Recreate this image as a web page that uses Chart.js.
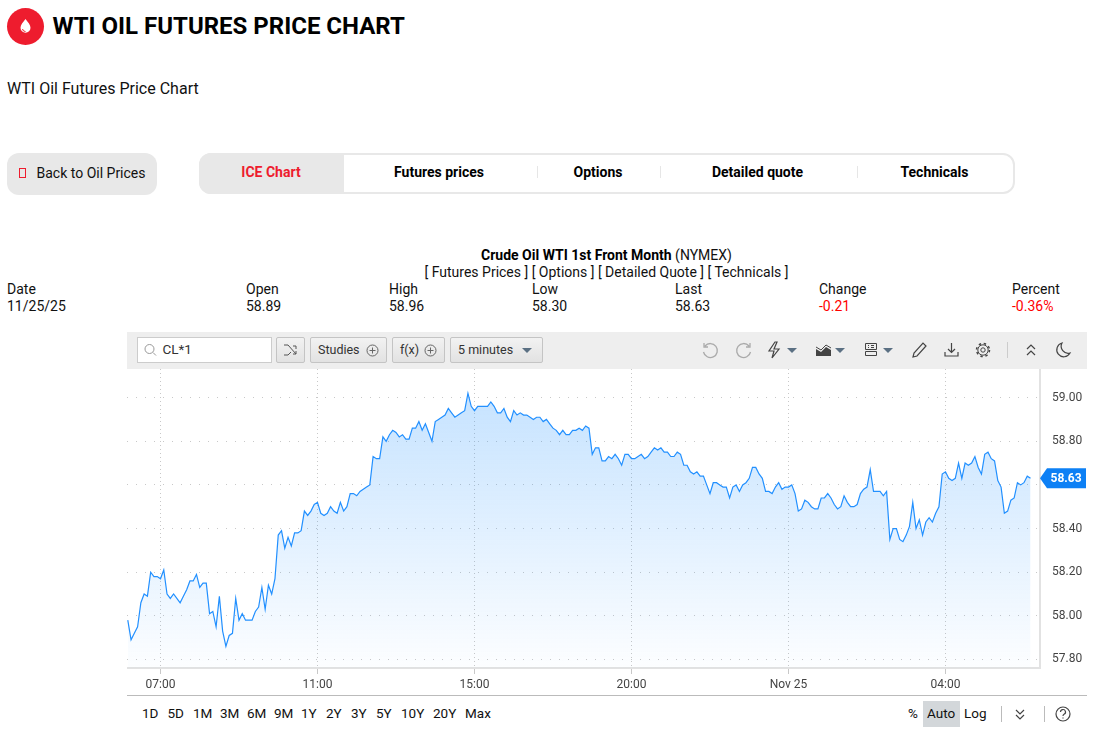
<!DOCTYPE html>
<html>
<head>
<meta charset="utf-8">
<title>WTI Oil Futures Price Chart</title>
<script src="https://cdn.jsdelivr.net/npm/chart.js@4"></script>
<style>
  html, body { margin: 0; padding: 0; background: #fff; overflow: hidden; }
  body { width: 1096px; height: 735px; position: relative; font-family: Roboto, sans-serif; font-size: 14px; color: #111; }
  .t { position: absolute; white-space: nowrap; line-height: 17px; }
  .r { font-size: 13.5px; }
  .c { transform: translateX(-50%); }
  .b { font-weight: 700; }
  .box { position: absolute; box-sizing: border-box; }
  .red { color: #f00; }
  .btn { position: absolute; box-sizing: border-box; top: 337px; height: 26px; border: 1px solid #c4c4c4; border-radius: 2px;
         background: linear-gradient(#f2f2f2, #e2e2e2); color: #333; font-size: 12.5px; line-height: 23px; padding-left: 7px; white-space: nowrap; }
  svg { position: absolute; overflow: visible; fill: none; }
  #chartBox { position: absolute; left: 127px; top: 369px; }
</style>
</head>
<body>

<!-- page header -->
<div class="box" style="left:7px;top:8px;width:37px;height:37px;border-radius:50%;background:#ee1c2e"></div>
<svg style="left:0;top:0" width="50" height="50"><path d="M25.500 19c2.600 3.500 5 5.800 5 8.800a5 5 0 0 1-10 0c0-3 2.400-5.300 5-8.800z" fill="#fff"/><path d="M22.500 29a3 3 0 0 0 3 2.500" stroke="#ee1c2e"/></svg>
<div class="t b" style="left:52.500px;top:11px;font-size:24px;line-height:30px;color:#000">WTI OIL FUTURES PRICE CHART</div>
<div class="t" style="left:7px;top:79px;font-size:16px;line-height:19px">WTI Oil Futures Price Chart</div>

<!-- nav -->
<div class="box" style="left:7px;top:153px;width:150px;height:42px;border-radius:12px;background:#e8e8e8"></div>
<div class="box" style="left:19px;top:168px;width:7px;height:10px;border:1px solid #ee1c2e"></div>
<div class="t" style="left:36.500px;top:165px">Back to Oil Prices</div>

<div class="box" style="left:199px;top:153px;width:816px;height:41px;border:2px solid #e8e8e8;border-radius:12px"></div>
<div class="box" style="left:199px;top:153px;width:145px;height:41px;background:#e8e8e8;border-radius:12px 0 0 12px"></div>
<div class="t b c" style="left:271px;top:164px;color:#ee1c2e">ICE Chart</div>
<div class="t b c" style="left:439px;top:164px;color:#000">Futures prices</div>
<div class="t b c" style="left:598px;top:164px;color:#000">Options</div>
<div class="t b c" style="left:757.500px;top:164px;color:#000">Detailed quote</div>
<div class="t b c" style="left:934.500px;top:164px;color:#000">Technicals</div>
<div class="box" style="left:537px;top:166px;width:1px;height:12px;background:#e6e6e6"></div>
<div class="box" style="left:660px;top:166px;width:1px;height:12px;background:#e6e6e6"></div>
<div class="box" style="left:857px;top:166px;width:1px;height:12px;background:#e6e6e6"></div>

<!-- quote table -->
<div class="t c" style="left:606.500px;top:247px"><span class="b" style="color:#000">Crude Oil WTI 1st Front Month</span> (NYMEX)</div>
<div class="t c" style="left:606.500px;top:264px">[ Futures Prices ] [ Options ] [ Detailed Quote ] [ Technicals ]</div>
<div class="t" style="left:7px;top:281px">Date</div><div class="t" style="left:7px;top:298px">11/25/25</div>
<div class="t" style="left:246px;top:281px">Open</div><div class="t" style="left:246px;top:298px">58.89</div>
<div class="t" style="left:389px;top:281px">High</div><div class="t" style="left:389px;top:298px">58.96</div>
<div class="t" style="left:532px;top:281px">Low</div><div class="t" style="left:532px;top:298px">58.30</div>
<div class="t" style="left:675px;top:281px">Last</div><div class="t" style="left:675px;top:298px">58.63</div>
<div class="t" style="left:819px;top:281px">Change</div><div class="t red" style="left:819px;top:298px">-0.21</div>
<div class="t" style="left:1012px;top:281px">Percent</div><div class="t red" style="left:1012px;top:298px">-0.36%</div>

<!-- toolbar -->
<div class="box" style="left:127px;top:332px;width:960px;height:37px;background:#eee"></div>
<div class="box" style="left:137px;top:337px;width:135px;height:26px;background:#fff;border:1px solid #ccc"></div>
<svg style="left:0;top:0" width="10" height="10"><circle cx="149.500" cy="349" r="4.500" stroke="#999"/><path d="M153 352.500l3 3" stroke="#999"/></svg>
<div class="t r" style="left:162.500px;top:341px;color:#333">CL*1</div>
<div class="btn" style="left:276px;width:29px"></div>
<svg style="left:0;top:0" width="10" height="10" stroke="#555"><path d="M284 345l4 0 8 9h-3M284 355l4 0 3-3M293 346h3v3M296 351v3"/></svg>
<div class="btn" style="left:310px;width:77px">Studies</div>
<svg style="left:0;top:0" width="10" height="10" stroke="#666"><circle cx="372.500" cy="350.500" r="5.500"/><path d="M369.500 350.500h6M372.500 347.500v6"/></svg>
<div class="btn" style="left:392px;width:53px">f(x)</div>
<svg style="left:0;top:0" width="10" height="10" stroke="#666"><circle cx="430.500" cy="350.500" r="5.500"/><path d="M427.500 350.500h6M430.500 347.500v6"/></svg>
<div class="btn" style="left:450px;width:93px">5 minutes</div>
<svg style="left:0;top:0" width="10" height="10"><path d="M522 348h10l-5 5z" fill="#5b7083"/>
  <path d="M705 346a7 7 0 1 1-1.500 6M704 343v4h4" stroke="#aaa" stroke-width="1.300"/>
  <path d="M749 346a7 7 0 1 0 1.500 6M750 343v4h-4" stroke="#aaa" stroke-width="1.300"/>
  <path d="M775 342l-6 9h5l-2 7 7-9h-5l3-7z" stroke="#444" stroke-width="1.200"/>
  <path d="M787 348h10l-5 5z" fill="#5b7083"/>
  <path d="M816 356v-7l5 3 5-5 5 3v6z" fill="#444"/><path d="M816 347l5 3 5-5 5 3" stroke="#444"/>
  <path d="M835 348h10l-5 5z" fill="#5b7083"/>
  <path d="M865.500 343.500h11v6h-11zM865.500 351.500h11v4h-11zM868 345.500h1M871 345.500h3M868 347.500h1M871 347.500h3" stroke="#444"/>
  <path d="M883 348h10l-5 5z" fill="#5b7083"/>
  <path d="M913 357l1-4 9-10 3 3-9 10z" stroke="#444" stroke-width="1.200"/>
  <path d="M945 352v4h13v-4M951.500 343v9M948 349l3.500 3.500 3.500-3.500" stroke="#444" stroke-width="1.200"/>
  <circle cx="983" cy="350" r="2.200" stroke="#444"/><circle cx="983" cy="350" r="6.500" stroke="#444" stroke-width="1.500" stroke-dasharray="2.400 2.700"/>
  <circle cx="983" cy="350" r="5.200" stroke="#444"/>
  <path d="M1007.500 342v16" stroke="#ccc"/>
  <path d="M1027 349l4-4 4 4M1027 355l4-4 4 4" stroke="#444" stroke-width="1.200"/>
  <path d="M1062 343a7 7 0 1 0 8 10 7 7 0 0 1-8-10z" stroke="#444" stroke-width="1.200"/>
</svg>

<div id="chartBox"><canvas id="priceChart" width="960" height="326"></canvas></div>

<!-- range bar -->
<div class="box" style="left:127px;top:695px;width:960px;height:1px;background:#bbb"></div>
<div class="t r" style="left:142px;top:705px">1D</div>
<div class="t r" style="left:167.500px;top:705px">5D</div>
<div class="t r" style="left:193px;top:705px">1M</div>
<div class="t r" style="left:220px;top:705px">3M</div>
<div class="t r" style="left:247px;top:705px">6M</div>
<div class="t r" style="left:274px;top:705px">9M</div>
<div class="t r" style="left:301px;top:705px">1Y</div>
<div class="t r" style="left:326px;top:705px">2Y</div>
<div class="t r" style="left:351px;top:705px">3Y</div>
<div class="t r" style="left:376px;top:705px">5Y</div>
<div class="t r" style="left:401px;top:705px">10Y</div>
<div class="t r" style="left:433px;top:705px">20Y</div>
<div class="t r" style="left:465px;top:705px">Max</div>
<div class="t r" style="left:908px;top:705px">%</div>
<div class="box" style="left:923px;top:701px;width:37px;height:26px;background:#d3d7da"></div>
<div class="t r" style="left:927px;top:705px">Auto</div>
<div class="t r" style="left:964px;top:705px">Log</div>
<svg style="left:0;top:0" width="10" height="10">
  <path d="M1001.500 706v16M1044.500 706v16" stroke="#bbb"/>
  <path d="M1016 710l4 4 4-4M1016 715l4 4 4-4" stroke="#444" stroke-width="1.200"/>
  <circle cx="1063" cy="714" r="7" stroke="#444" stroke-width="1.200"/>
  <path d="M1060.500 712a2.500 2.500 0 1 1 3.500 2.300c-.8.400-1 .8-1 1.700M1063 717.500v1" stroke="#444" stroke-width="1.200"/>
</svg>

<script>
// 5 minute closes
const priceValues = [
  57.98, 57.89, 57.92, 57.95, 58.06, 58.10, 58.09, 58.20, 58.18, 58.18,
  58.17, 58.21, 58.10, 58.08, 58.10, 58.08, 58.06, 58.09, 58.12, 58.16,
  58.16, 58.19, 58.13, 58.15, 58.15, 58.01, 58.02, 57.95, 58.09, 57.93,
  57.86, 57.91, 57.92, 58.08, 57.98, 58.01, 57.98, 57.98, 57.98, 58.02,
  58.04, 58.13, 58.03, 58.14, 58.10, 58.17, 58.37, 58.39, 58.31, 58.36,
  58.32, 58.38, 58.38, 58.39, 58.48, 58.46, 58.48, 58.51, 58.52, 58.47,
  58.46, 58.47, 58.50, 58.48, 58.47, 58.52, 58.48, 58.50, 58.56, 58.56,
  58.55, 58.57, 58.58, 58.59, 58.60, 58.73, 58.72, 58.72, 58.82, 58.80,
  58.83, 58.85, 58.84, 58.82, 58.83, 58.81, 58.81, 58.86, 58.86, 58.89,
  58.85, 58.88, 58.84, 58.80, 58.89, 58.90, 58.91, 58.92, 58.95, 58.93,
  58.91, 58.92, 58.93, 58.94, 59.02, 58.96, 58.94, 58.96, 58.96, 58.96,
  58.96, 58.98, 58.96, 58.93, 58.93, 58.95, 58.91, 58.89, 58.94, 58.92,
  58.93, 58.92, 58.92, 58.91, 58.90, 58.91, 58.91, 58.89, 58.90, 58.88,
  58.86, 58.85, 58.83, 58.85, 58.83, 58.83, 58.85, 58.85, 58.86, 58.85,
  58.87, 58.86, 58.74, 58.77, 58.77, 58.71, 58.71, 58.73, 58.72, 58.74,
  58.72, 58.69, 58.74, 58.74, 58.72, 58.72, 58.73, 58.74, 58.72, 58.73,
  58.75, 58.77, 58.76, 58.77, 58.75, 58.75, 58.73, 58.73, 58.75, 58.74,
  58.69, 58.69, 58.66, 58.65, 58.66, 58.64, 58.64, 58.60, 58.56, 58.61,
  58.61, 58.60, 58.59, 58.59, 58.54, 58.59, 58.60, 58.57, 58.60, 58.61,
  58.63, 58.68, 58.68, 58.65, 58.63, 58.57, 58.57, 58.56, 58.59, 58.61,
  58.58, 58.59, 58.59, 58.60, 58.56, 58.48, 58.49, 58.53, 58.52, 58.50,
  58.49, 58.49, 58.54, 58.54, 58.56, 58.54, 58.51, 58.49, 58.50, 58.55,
  58.52, 58.50, 58.50, 58.51, 58.56, 58.58, 58.59, 58.67, 58.57, 58.57,
  58.57, 58.55, 58.57, 58.35, 58.40, 58.40, 58.35, 58.34, 58.37, 58.41,
  58.52, 58.40, 58.44, 58.37, 58.43, 58.45, 58.43, 58.47, 58.50, 58.65,
  58.66, 58.63, 58.62, 58.63, 58.70, 58.63, 58.70, 58.69, 58.70, 58.73,
  58.68, 58.65, 58.74, 58.75, 58.72, 58.71, 58.62, 58.59, 58.47, 58.48,
  58.53, 58.54, 58.61, 58.60, 58.61, 58.64, 58.63
];
const timeTickBars = [10, 58, 106, 154, 202, 250];
const timeTickLabels = ["07:00", "11:00", "15:00", "20:00", "Nov 25", "04:00"];
const priceTicks = [57.8, 58.0, 58.2, 58.4, 58.6, 58.8, 59.0];
const lastPrice = 58.63;

// blue price tag on the right axis
const lastPriceTag = {
  id: "lastPriceTag",
  afterDraw(chart) {
    const ctx = chart.ctx;
    const y = chart.scales.y.getPixelForValue(lastPrice);
    const x = chart.chartArea.right;
    ctx.save();
    ctx.fillStyle = "#0d80f5";
    ctx.beginPath();
    ctx.moveTo(x, y);
    ctx.lineTo(x + 7, y - 10);
    ctx.lineTo(x + 46, y - 10);
    ctx.lineTo(x + 46, y + 10);
    ctx.lineTo(x + 7, y + 10);
    ctx.closePath();
    ctx.fill();
    ctx.fillStyle = "#fff";
    ctx.font = "700 12px Roboto";
    ctx.textAlign = "center";
    ctx.textBaseline = "middle";
    ctx.fillText(lastPrice.toFixed(2), x + 26, y + 0.5);
    ctx.restore();
  }
};

function areaFill(context) {
  const chart = context.chart;
  if (!chart.chartArea) return "rgba(30,144,255,0.1)";
  const g = chart.ctx.createLinearGradient(0, chart.chartArea.top + 26, 0, chart.chartArea.bottom);
  g.addColorStop(0, "rgba(30,144,255,0.25)");
  g.addColorStop(1, "rgba(30,144,255,0.01)");
  return g;
}

new Chart(document.getElementById("priceChart"), {
  type: "line",
  data: {
    datasets: [{
      data: priceValues.map((v, i) => ({ x: i, y: v })),
      borderColor: "#2290ff",
      borderWidth: 1.2,
      backgroundColor: areaFill,
      fill: "start",
      pointRadius: 0,
      tension: 0
    }]
  },
  options: {
    responsive: false,
    animation: false,
    events: [],
    layout: { padding: 0 },
    plugins: { legend: { display: false }, tooltip: { enabled: false } },
    scales: {
      x: {
        type: "linear",
        min: -0.24,
        max: 278.9,
        afterBuildTicks: axis => { axis.ticks = timeTickBars.map(v => ({ value: v })); },
        afterFit: axis => { axis.height = 27; axis.paddingLeft = 0; axis.paddingRight = 0; },
        grid: { color: "#c8c8c8", lineWidth: 1, tickLength: 6, tickColor: "#c8c8c8" },
        border: { color: "#e2e2e2", width: 2, dash: [1, 3] },
        ticks: {
          autoSkip: false,
          maxRotation: 0,
          padding: 4,
          color: "#444",
          font: { family: "Roboto", size: 12 },
          callback: v => timeTickLabels[timeTickBars.indexOf(v)]
        }
      },
      y: {
        position: "right",
        min: 57.761,
        max: 59.131,
        afterBuildTicks: axis => { axis.ticks = priceTicks.map(v => ({ value: v })); },
        afterFit: axis => { axis.width = 47; axis.paddingTop = 0; axis.paddingBottom = 0; },
        grid: { color: "#c8c8c8", lineWidth: 1, drawTicks: false },
        border: { color: "#e2e2e2", width: 2, dash: [1, 8] },
        ticks: {
          padding: 12,
          color: "#444",
          font: { family: "Roboto", size: 12 },
          callback: v => v.toFixed(2)
        }
      }
    }
  },
  plugins: [lastPriceTag]
});
</script>
</body>
</html>
